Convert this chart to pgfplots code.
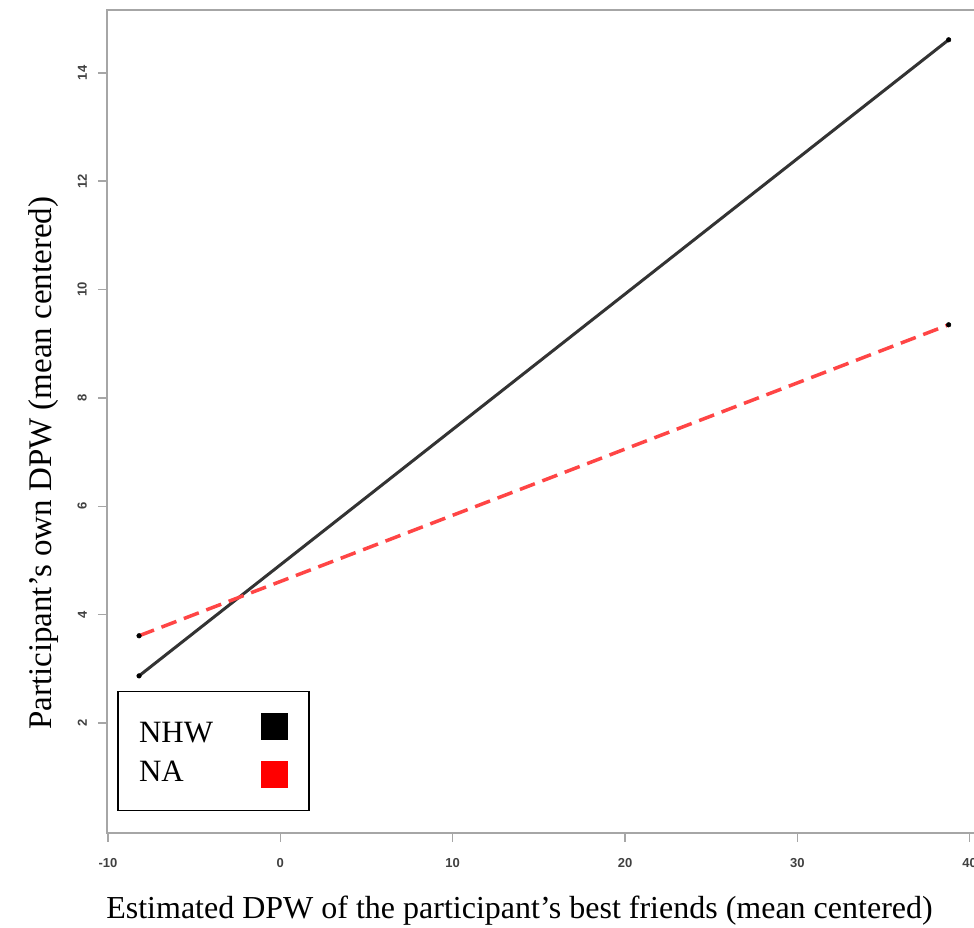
\documentclass[border=0pt]{standalone}
\usepackage{fontspec}
\setmainfont{Liberation Serif}
\newfontfamily\tickfont{Liberation Sans}
\usepackage{pgfplots}
\pgfplotsset{compat=1.18}
\definecolor{axgray}{HTML}{A6A6A6}
\definecolor{linegray}{HTML}{333333}
\definecolor{dashred}{HTML}{FF4545}
\begin{document}
\begin{tikzpicture}
\path[use as bounding box] (-107pt,-95pt) rectangle (867pt,833pt);
\begin{axis}[
  scale only axis, width=873pt, height=823pt,
  xmin=-10.06, xmax=40.6, ymin=-0.03, ymax=15.16,
  xtick={-10,0,10,20,30,40}, ytick={2,4,6,8,10,12,14},
  tick pos=left,
  tick align=outside, major tick length=9pt,
  tick style={axgray, line width=1.4pt},
  axis line style={axgray, line width=1.8pt},
  /pgf/number format/assume math mode=true,
  ticklabel style={font=\tickfont\bfseries\fontsize{13}{13}\selectfont, text=black!75, inner sep=0pt},
  xticklabel style={anchor=north},
  yticklabel style={rotate=90, anchor=south},
  xticklabel shift=16pt,
  yticklabel shift=11pt,
  xlabel={Estimated DPW of the participant’s best friends (mean centered)},
  ylabel={Participant’s own DPW (mean centered)},
  label style={inner sep=0pt},
  xlabel style={font=\fontsize{32}{32}\selectfont, at={(axis description cs:-0.001,-0.1033)}, anchor=base west},
  ylabel style={font=\fontsize{33}{33}\selectfont, at={(axis description cs:-0.063,0.125)}, anchor=base west},
  legend plot pos=right, legend cell align=left,
  legend style={at={(axis description cs:0.0118,0.0267)}, anchor=south west,
    draw=black, line width=1.5pt, fill=white, inner xsep=21pt, inner ysep=22pt,
    font=\fontsize{31}{31}\selectfont,
    nodes={inner sep=0pt, text depth=3pt, text height=21pt},
    row sep=15pt, column sep=48pt},
]
\addplot[linegray, line width=3pt, mark=*, mark size=2.3pt, mark options={solid, fill=black, draw=black, line width=0.5pt},
  legend image code/.code={\fill[black, draw=none, solid] (0pt,-7pt) rectangle (27pt,20pt);}]
  coordinates {(-8.2,2.87) (38.78,14.61)};
\addlegendentry{NHW}
\addplot[dashred, line width=3.5pt, dash pattern=on 16pt off 8pt, mark=*, mark size=2.3pt, mark options={solid, fill=black, draw=black, line width=0.5pt},
  legend image code/.code={\fill[red, draw=none, solid] (0pt,-16pt) rectangle (27pt,11pt);}]
  coordinates {(-8.2,3.61) (38.78,9.35)};
\addlegendentry{NA}
\end{axis}
\end{tikzpicture}
\end{document}
